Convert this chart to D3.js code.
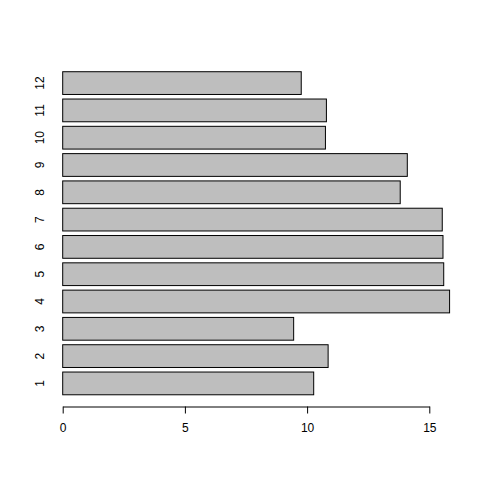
<!DOCTYPE html>
<html>
<head>
<meta charset="utf-8">
<script src="https://cdn.jsdelivr.net/npm/d3@7"></script>
<style>
  body { margin: 0; background: #fff; }
  text { font-family: "Liberation Sans", Arial, sans-serif; }
</style>
</head>
<body>
<svg id="chart" width="480" height="480"></svg>
<script>
const categories = ['1', '2', '3', '4', '5', '6', '7', '8', '9', '10', '11', '12'];
const values = [10.27, 10.86, 9.45, 15.83, 15.59, 15.56, 15.53, 13.81, 14.1, 10.75, 10.79, 9.76];
const xTicks = [0, 5, 10, 15];

const svg = d3.select('#chart');

// R barplot style: width 1, space 0.2, 4% axis expansion
const xScale = d3.scaleLinear().domain([0, 15]).range([62.7, 429.3]);
const yScale = d3.scaleLinear().domain([-0.368, 14.968]).range([407.7, 58.8]);

const barBottom = (i) => 0.2 + i * 1.2;

svg.append('g')
  .selectAll('rect')
  .data(values)
  .join('rect')
  .attr('x', xScale(0))
  .attr('y', (d, i) => yScale(barBottom(i) + 1))
  .attr('width', (d) => xScale(d) - xScale(0))
  .attr('height', (d, i) => yScale(barBottom(i)) - yScale(barBottom(i) + 1))
  .attr('fill', '#bebebe')
  .attr('stroke', '#000')
  .attr('stroke-width', 1);

const xAxis = svg.append('g')
  .attr('transform', 'translate(0,406.5)')
  .call(d3.axisBottom(xScale).tickValues(xTicks).tickSize(7).tickSizeOuter(0).tickPadding(10));
xAxis.selectAll('path, line').attr('stroke', '#000');
xAxis.selectAll('text').attr('font-size', 12).attr('fill', '#000')
  .attr('font-family', '"Liberation Sans", Arial, sans-serif');

svg.append('g')
  .selectAll('text')
  .data(categories)
  .join('text')
  .attr('transform', (d, i) => `translate(44,${yScale(barBottom(i) + 0.5)}) rotate(-90)`)
  .attr('text-anchor', 'middle')
  .attr('font-size', 12)
  .attr('fill', '#000')
  .text((d) => d);
</script>
</body>
</html>
